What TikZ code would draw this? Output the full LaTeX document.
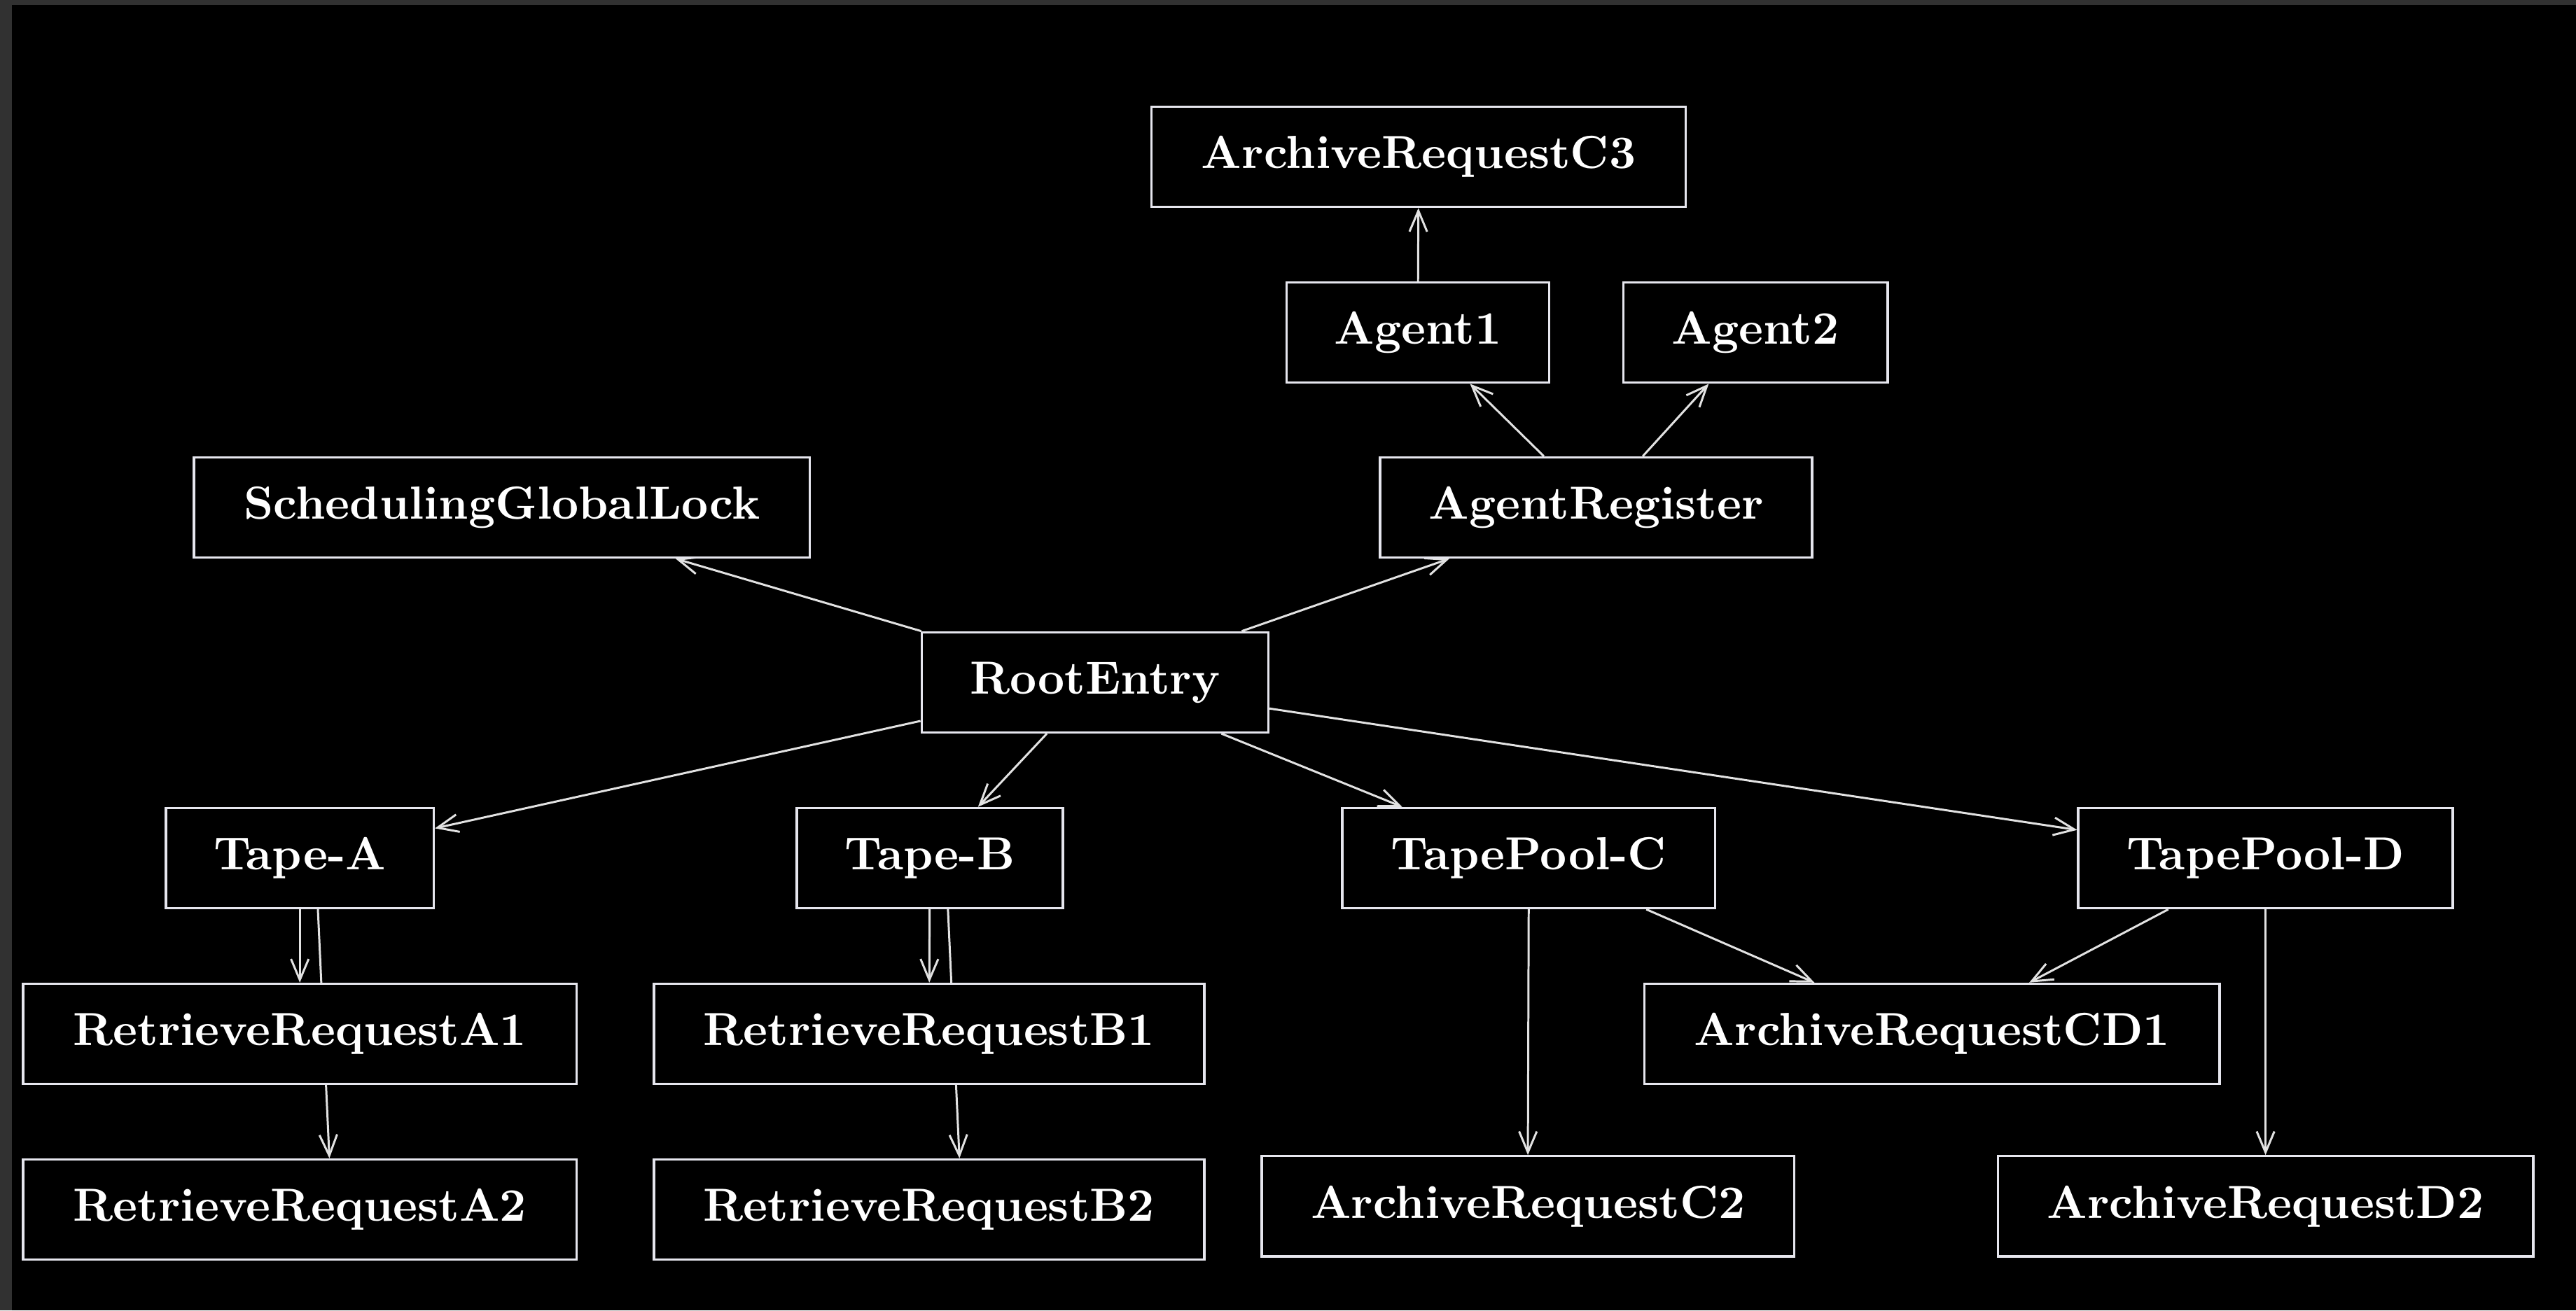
\documentclass[tikz,border=0pt]{standalone}
\usetikzlibrary{arrows.meta,calc}
\pgfdeclarelayer{bgl}
\pgfdeclarelayer{edgel}
\pgfsetlayers{bgl,edgel,main}
\definecolor{framecol}{HTML}{313131}
\definecolor{edgecol}{HTML}{E2E2E2}
\definecolor{boxcol}{HTML}{E6E6EE}
\begin{document}
\begin{tikzpicture}[x=0.3538pt,y=-0.3538pt,
  obj/.style={draw=boxcol, line width=0.5pt, fill=black, text=white,
    font=\bfseries, minimum height=61*0.3538pt, inner sep=0pt},
  bw/.style={minimum width=#1*0.3538pt},
  link/.style={draw=edgecol, line width=0.45pt,
    -{Straight Barb[length=4.5pt,width=3.8pt]}}]
\useasboundingbox (0,0) rectangle (1568,798);
\begin{pgfonlayer}{bgl}
  \fill[framecol] (0,0) rectangle (1568,798);
  \fill[black] (7.3,3) rectangle (1568,798);
\end{pgfonlayer}

\node[obj,bw=325] (C3)     at (863.5,95.5)  {ArchiveRequestC3};
\node[obj,bw=160] (Agent1) at (863,202.5)   {Agent1};
\node[obj,bw=161] (Agent2) at (1068.5,202.5){Agent2};
\node[obj,bw=375] (SGL)    at (305.5,309)   {SchedulingGlobalLock};
\node[obj,bw=263] (AR)     at (971.5,309)   {AgentRegister};
\node[obj,bw=211] (Root)   at (666.5,415.5) {RootEntry};
\node[obj,bw=163] (TapeA)  at (182.5,522.5) {Tape-A};
\node[obj,bw=162] (TapeB)  at (566,522.5)   {Tape-B};
\node[obj,bw=227] (TPC)    at (930.5,522.5) {TapePool-C};
\node[obj,bw=228] (TPD)    at (1379,522.5)  {TapePool-D};
\node[obj,bw=337] (RRA1)   at (182.5,629.5) {RetrieveRequestA1};
\node[obj,bw=335] (RRB1)   at (565.5,629.5) {RetrieveRequestB1};
\node[obj,bw=350] (CD1)    at (1176,629.5)  {ArchiveRequestCD1};
\node[obj,bw=337] (RRA2)   at (182.5,736.5) {RetrieveRequestA2};
\node[obj,bw=335] (RRB2)   at (565.5,736.5) {RetrieveRequestB2};
\node[obj,bw=324] (C2)     at (930,734.5)   {ArchiveRequestC2};
\node[obj,bw=326] (D2)     at (1379,734.5)  {ArchiveRequestD2};

\begin{pgfonlayer}{edgel}
  \draw[link] (Agent1) -- (C3);
  \draw[link] (AR) -- (Agent1);
  \draw[link] (AR) -- (Agent2);
  \draw[link] (Root) -- (SGL);
  \draw[link] (Root) -- (AR);
  \draw[link] (Root) -- (TapeA);
  \draw[link] (Root) -- (TapeB);
  \draw[link] (Root) -- (TPC);
  \draw[link] (Root) -- (TPD);
  \draw[link] (TapeA) -- (RRA1);
  \draw[link] ($(TapeA.south)+(11,0)$) -- ($(RRA2.north)+(18,0)$);
  \draw[link] (TapeB) -- (RRB1);
  \draw[link] ($(TapeB.south)+(11,0)$) -- ($(RRB2.north)+(18.5,0)$);
  \draw[link] (TPC.south) -- (C2.north);
  \draw[link] (TPC) -- (CD1);
  \draw[link] (TPD) -- (CD1);
  \draw[link] (TPD) -- (D2);
\end{pgfonlayer}
\end{tikzpicture}
\end{document}
